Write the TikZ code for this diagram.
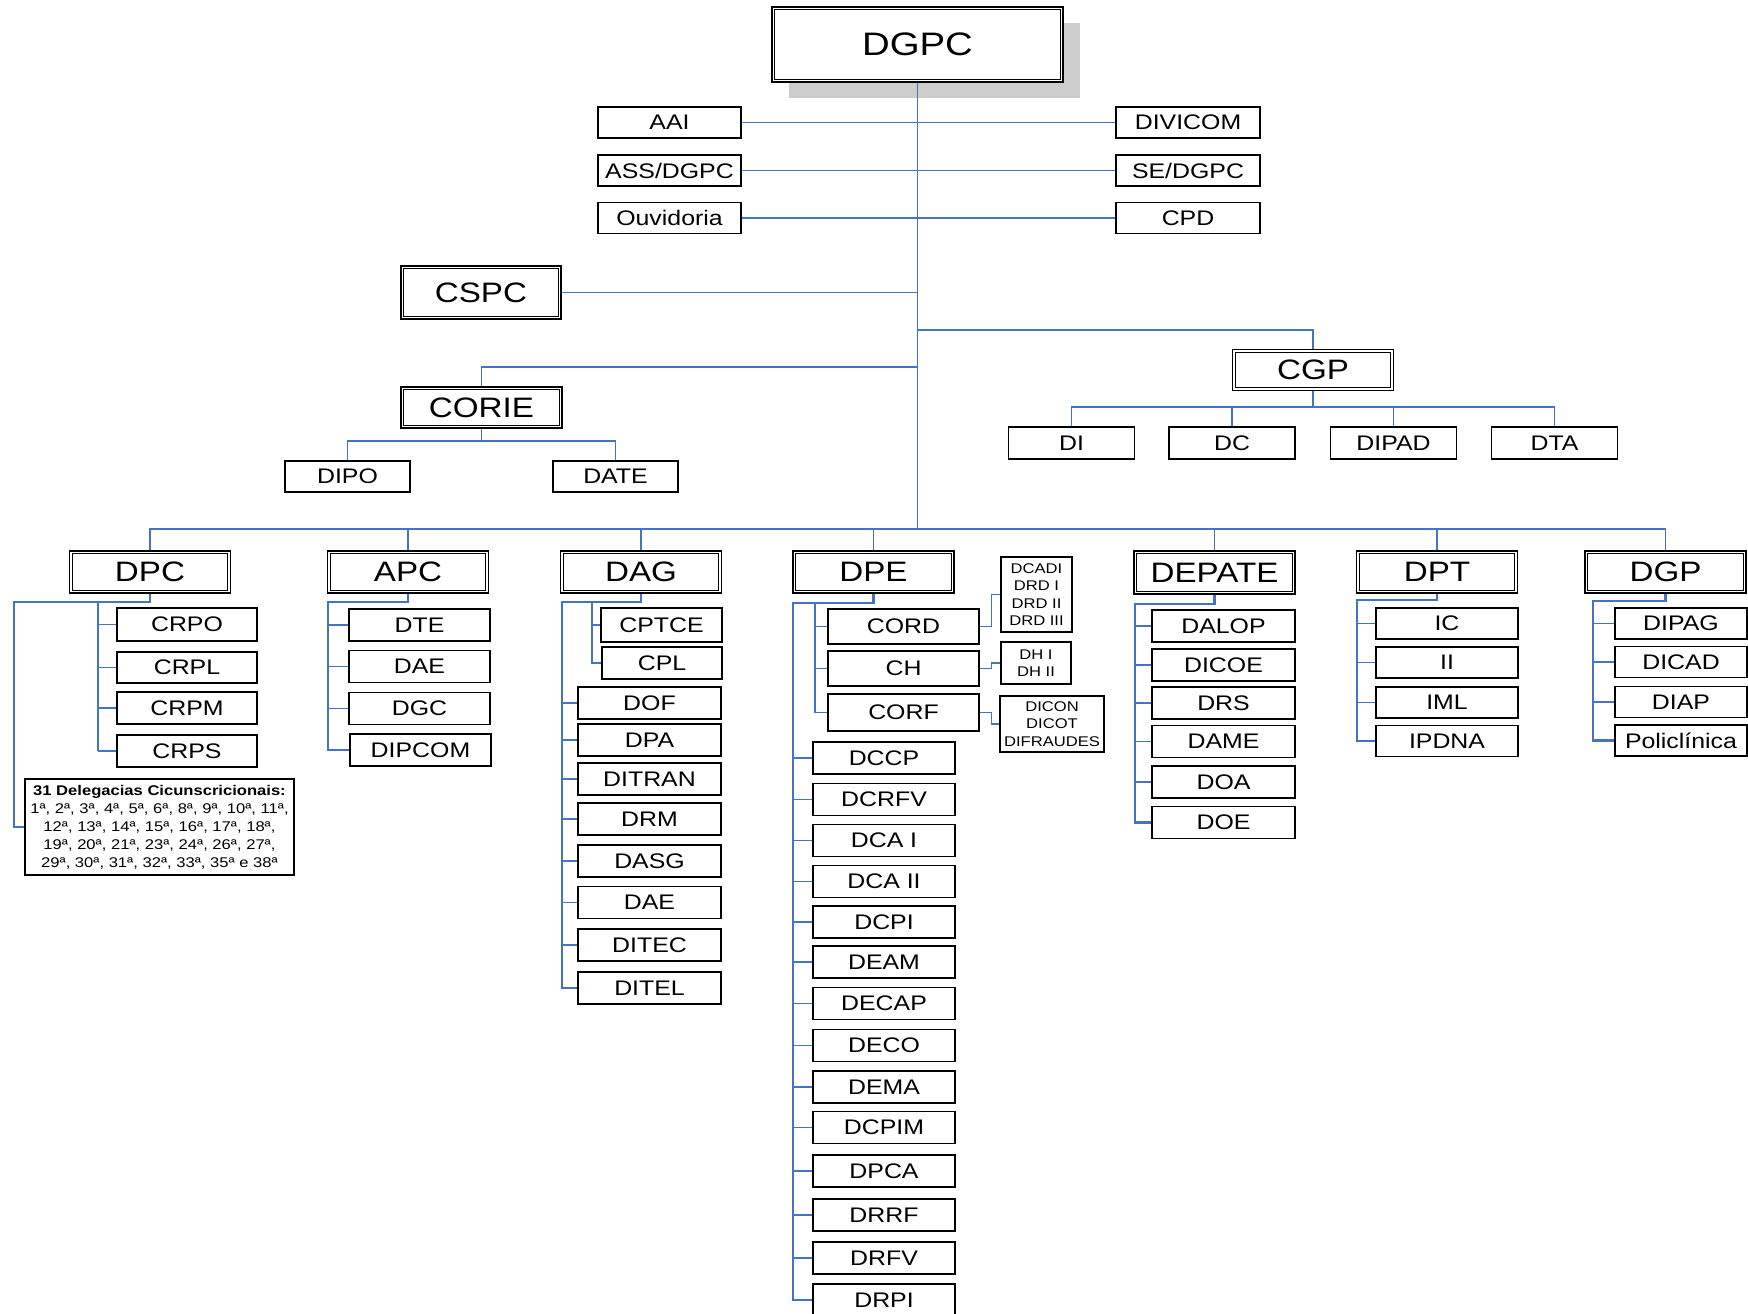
\documentclass[tikz,border=0pt]{standalone}
\usepackage{fontspec}
\setmainfont{Liberation Sans}[FakeStretch=1.18]
\usepackage{tikz}
\usetikzlibrary{shadows}
\pgfdeclarelayer{nodelayer}
\pgfdeclarelayer{edgelayer}
\pgfsetlayers{nodelayer,edgelayer,main}
\definecolor{linkblue}{RGB}{68,114,196}
\definecolor{shadowgray}{RGB}{204,204,204}
\newdimen\pxu
\pxu=0.02cm
\tikzset{
  unit/.style={draw, line width=0.7pt, fill=white, inner sep=0pt, minimum width=142\pxu, minimum height=32\pxu, font=\fontsize{12}{14}\selectfont},
  head/.style={draw, line width=0.9pt, fill=white, inner sep=0pt, minimum width=161\pxu, minimum height=42\pxu, font=\fontsize{16}{19}\selectfont,
    path picture={\draw [line width=0.5pt] ([shift={(2.6, 2.6)}]path picture bounding box.north west) rectangle ([shift={(-2.6, -2.6)}]path picture bounding box.south east);}},
  note/.style={draw, line width=0.7pt, fill=white, inner sep=0pt, align=center, font=\fontsize{8}{9.9}\selectfont},
  link/.style={draw=linkblue, line width=0.8pt},
  bus/.style={draw=linkblue, line width=1.4pt},
}

\begin{document}
\begin{tikzpicture}[x=0.02cm, y=-0.02cm]
  \useasboundingbox (0, 0) rectangle (1748, 1313);
  \begin{pgfonlayer}{nodelayer}
    \node [head, minimum width=291\pxu, minimum height=75\pxu, font=\fontsize{18.5}{22}\selectfont, drop shadow={shadow xshift=17\pxu, shadow yshift=-16\pxu, fill=shadowgray, opacity=1}] (dgpc) at (917.5, 44.5) {DGPC};
    \node [unit, minimum width=143\pxu, minimum height=31\pxu] (aai) at (669.5, 122.5) {AAI};
    \node [unit, minimum width=143\pxu, minimum height=31\pxu] (assdgpc) at (669.5, 170.5) {ASS/DGPC};
    \node [unit, minimum width=143\pxu, minimum height=31\pxu] (ouvidoria) at (669.5, 218) {Ouvidoria};
    \node [unit, minimum width=144\pxu, minimum height=31\pxu] (divicom) at (1188, 122.5) {DIVICOM};
    \node [unit, minimum width=144\pxu, minimum height=31\pxu] (sedgpc) at (1188, 170.5) {SE/DGPC};
    \node [unit, minimum width=144\pxu, minimum height=31\pxu] (cpd) at (1188, 218) {CPD};
    \node [head, minimum width=160\pxu, minimum height=53\pxu] (cspc) at (481, 292.5) {CSPC};
    \node [head, minimum height=41\pxu] (corie) at (481.5, 407.5) {CORIE};
    \node [unit, minimum width=125\pxu, minimum height=31\pxu] (dipo) at (347.5, 476.5) {DIPO};
    \node [unit, minimum width=125\pxu, minimum height=31\pxu] (date) at (615.5, 476.5) {DATE};
    \node [head, minimum height=41\pxu] (cgp) at (1313, 370) {CGP};
    \node [unit, minimum width=126\pxu] (di) at (1071.5, 443) {DI};
    \node [unit, minimum width=126\pxu] (dc) at (1232, 443) {DC};
    \node [unit, minimum width=126\pxu] (dipad) at (1393.5, 443) {DIPAD};
    \node [unit, minimum width=126\pxu] (dta) at (1554.5, 443) {DTA};
    \node [head] (dpc) at (150, 572) {DPC};
    \node [head] (apc) at (408, 572) {APC};
    \node [head] (dag) at (641, 572) {DAG};
    \node [head] (dpe) at (873.5, 572) {DPE};
    \node [head, minimum height=43\pxu] (depate) at (1214.5, 572.5) {DEPATE};
    \node [head] (dpt) at (1437, 572) {DPT};
    \node [head] (dgp) at (1665.5, 572) {DGP};
    \node [unit, minimum width=140\pxu, minimum height=33\pxu] (crpo) at (187, 624.5) {CRPO};
    \node [unit, minimum width=140\pxu, minimum height=31\pxu] (crpl) at (187, 667.5) {CRPL};
    \node [unit, minimum width=140\pxu] (crpm) at (187, 708) {CRPM};
    \node [unit, minimum width=140\pxu] (crps) at (187, 751) {CRPS};
    \node [note, minimum width=269\pxu, minimum height=96\pxu, font=\fontsize{8}{10.2}\selectfont] (deleg) at (159.5, 827) {\textbf{31 Delegacias Cicunscricionais:}\\1ª, 2ª, 3ª, 4ª, 5ª, 6ª, 8ª, 9ª, 10ª, 11ª,\\12ª, 13ª, 14ª, 15ª, 16ª, 17ª, 18ª,\\19ª, 20ª, 21ª, 23ª, 24ª, 26ª, 27ª,\\29ª, 30ª, 31ª, 32ª, 33ª, 35ª e 38ª};
    \node [unit, minimum width=141\pxu] (dte) at (419.5, 625) {DTE};
    \node [unit, minimum width=141\pxu] (apcdae) at (419.5, 666.5) {DAE};
    \node [unit, minimum width=141\pxu] (dgc) at (419.5, 708.5) {DGC};
    \node [unit, minimum width=141\pxu] (dipcom) at (420.5, 750) {DIPCOM};
    \node [unit, minimum width=121\pxu, minimum height=34\pxu] (cptce) at (661.5, 625) {CPTCE};
    \node [unit, minimum width=120\pxu] (cpl) at (662, 663) {CPL};
    \node [unit, minimum width=143\pxu] (dof) at (649.5, 703) {DOF};
    \node [unit, minimum width=143\pxu] (dpa) at (649.5, 740) {DPA};
    \node [unit, minimum width=143\pxu] (ditran) at (649.5, 779) {DITRAN};
    \node [unit, minimum width=143\pxu] (drm) at (649.5, 819) {DRM};
    \node [unit, minimum width=143\pxu] (dasg) at (649.5, 861) {DASG};
    \node [unit, minimum width=143\pxu] (dagdae) at (649.5, 902.5) {DAE};
    \node [unit, minimum width=143\pxu] (ditec) at (649.5, 945) {DITEC};
    \node [unit, minimum width=143\pxu] (ditel) at (649.5, 988) {DITEL};
    \node [unit, minimum width=151\pxu, minimum height=35\pxu] (cord) at (903.5, 626.5) {CORD};
    \node [unit, minimum width=151\pxu, minimum height=35\pxu] (ch) at (903.5, 668.5) {CH};
    \node [unit, minimum width=151\pxu, minimum height=37\pxu] (corf) at (903.5, 712.5) {CORF};
    \node [note, minimum width=71\pxu, minimum height=75\pxu] (dcadi) at (1036.5, 594.5) {DCADI\\DRD I\\DRD II\\DRD III};
    \node [note, minimum width=70\pxu, minimum height=42\pxu] (dhnote) at (1036, 663) {DH I\\DH II};
    \node [note, minimum width=104\pxu, minimum height=56\pxu] (dicon) at (1052, 724) {DICON\\DICOT\\DIFRAUDES};
    \node [unit] (dccp) at (884, 758) {DCCP};
    \node [unit] (dcrfv) at (884, 799.5) {DCRFV};
    \node [unit] (dcai) at (884, 840.5) {DCA I};
    \node [unit] (dcaii) at (884, 881.5) {DCA II};
    \node [unit] (dcpi) at (884, 922) {DCPI};
    \node [unit] (deam) at (884, 962) {DEAM};
    \node [unit] (decap) at (884, 1003.5) {DECAP};
    \node [unit] (deco) at (884, 1045.5) {DECO};
    \node [unit] (dema) at (884, 1087) {DEMA};
    \node [unit] (dcpim) at (884, 1127.5) {DCPIM};
    \node [unit] (dpca) at (884, 1171) {DPCA};
    \node [unit] (drrf) at (884, 1215) {DRRF};
    \node [unit] (drfv) at (884, 1258) {DRFV};
    \node [unit] (drpi) at (884, 1300) {DRPI};
    \node [unit, minimum width=143\pxu] (dalop) at (1223.5, 626) {DALOP};
    \node [unit, minimum width=143\pxu] (dicoe) at (1223.5, 665) {DICOE};
    \node [unit, minimum width=143\pxu] (drs) at (1223.5, 703) {DRS};
    \node [unit, minimum width=143\pxu] (dame) at (1223.5, 741.5) {DAME};
    \node [unit, minimum width=143\pxu] (doa) at (1223.5, 782) {DOA};
    \node [unit, minimum width=143\pxu] (doe) at (1223.5, 822.5) {DOE};
    \node [unit, minimum height=31\pxu] (ic) at (1447, 623.5) {IC};
    \node [unit, minimum height=31\pxu] (ii) at (1447, 662.5) {II};
    \node [unit, minimum height=31\pxu] (iml) at (1447, 702.5) {IML};
    \node [unit, minimum height=31\pxu] (ipdna) at (1447, 741) {IPDNA};
    \node [unit, minimum width=132\pxu, minimum height=31\pxu] (dipag) at (1681, 623.5) {DIPAG};
    \node [unit, minimum width=132\pxu, minimum height=31\pxu] (dicad) at (1681, 662) {DICAD};
    \node [unit, minimum width=132\pxu, minimum height=31\pxu] (diap) at (1681, 702) {DIAP};
    \node [unit, minimum width=132\pxu, minimum height=31\pxu] (policlinica) at (1681, 740.5) {Policlínica};
  \end{pgfonlayer}
  \begin{pgfonlayer}{edgelayer}
    \coordinate (trunkend) at (917.5, 529);
    \coordinate (cgpjoin) at (917.5, 330);
    \coordinate (coriejoin) at (917.5, 367);
    \coordinate (coriebus) at (481.5, 441);
    \coordinate (cgpbus) at (1313, 407);
    \coordinate (dpcleft) at (14, 602);
    \coordinate (dpcspine) at (98, 602);
    \coordinate (apcspine) at (328, 602);
    \coordinate (dagspine) at (562, 602);
    \coordinate (daginner) at (592, 602);
    \coordinate (dpespine) at (793, 603);
    \coordinate (dpeinner) at (815, 603);
    \coordinate (depatespine) at (1135, 604);
    \coordinate (dptspine) at (1357, 600);
    \coordinate (dgpspine) at (1593, 601);
    \draw [link] (dgpc.south) to (trunkend);
    \draw [link] (aai) to (divicom);
    \draw [link] (assdgpc) to (sedgpc);
    \draw [link] (ouvidoria) to (cpd);
    \draw [link] (cspc.east) to (cspc.east -| trunkend);
    \draw [link] (cgpjoin) -| (cgp.north);
    \draw [link] (coriejoin) -| (corie.north);
    \draw [link] (corie.south) to (coriebus);
    \draw [link] (dipo.north) |- (coriebus) -| (date.north);
    \draw [link] (cgp.south) to (cgpbus);
    \draw [link] (di.north) |- (cgpbus) -| (dta.north);
    \foreach \n in {dc, dipad}
      \draw [link] (\n.north) to (\n.north |- cgpbus);
    \draw [link] (dpc.north) |- (trunkend) -| (dgp.north);
    \foreach \n in {apc, dag, dpe, depate, dpt}
      \draw [link] (\n.north) to (\n.north |- trunkend);
    \draw [bus] (dpc.south) |- (dpcleft) |- (deleg.west);
    \draw [bus] (dpcspine) to (dpcspine |- crps.west);
    \foreach \n in {crpo, crpl, crpm, crps}
      \draw [link] (dpcspine |- \n.west) to (\n.west);
    \draw [bus] (apc.south) |- (apcspine) |- (dipcom.west);
    \foreach \n in {dte, apcdae, dgc}
      \draw [link] (apcspine |- \n.west) to (\n.west);
    \draw [bus] (dag.south) |- (dagspine) |- (ditel.west);
    \draw [link] (daginner) |- (cpl.west);
    \draw [link] (daginner |- cptce.west) to (cptce.west);
    \foreach \n in {dof, dpa, ditran, drm, dasg, dagdae, ditec}
      \draw [link] (dagspine |- \n.west) to (\n.west);
    \draw [bus] (dpe.south) |- (dpespine) |- (drpi.west);
    \draw [link] (dpeinner) |- (corf.west);
    \foreach \n in {cord, ch}
      \draw [link] (dpeinner |- \n.west) to (\n.west);
    \draw [link] (cord.east) -- ++(12, 0) |- (dcadi.west);
    \draw [link] (ch.east) -- ++(12, 0) |- (dhnote.west);
    \draw [link] (corf.east) -- ++(12, 0) |- (dicon.west);
    \foreach \n in {dccp, dcrfv, dcai, dcaii, dcpi, deam, decap, deco, dema, dcpim, dpca, drrf, drfv}
      \draw [link] (dpespine |- \n.west) to (\n.west);
    \draw [bus] (depate.south) |- (depatespine) |- (doe.west);
    \foreach \n in {dalop, dicoe, drs, dame, doa}
      \draw [link] (depatespine |- \n.west) to (\n.west);
    \draw [bus] (dpt.south) |- (dptspine) |- (ipdna.west);
    \foreach \n in {ic, ii, iml}
      \draw [link] (dptspine |- \n.west) to (\n.west);
    \draw [bus] (dgp.south) |- (dgpspine) |- (policlinica.west);
    \foreach \n in {dipag, dicad, diap}
      \draw [link] (dgpspine |- \n.west) to (\n.west);
  \end{pgfonlayer}
\end{tikzpicture}
\end{document}
